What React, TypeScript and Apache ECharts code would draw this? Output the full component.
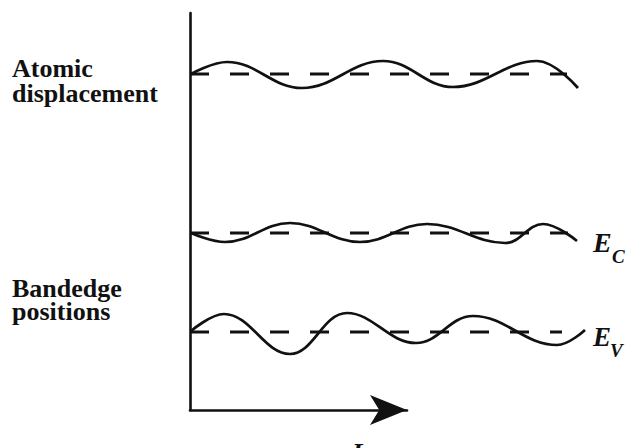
import React, { useEffect, useRef } from "react";
import * as echarts from "echarts";

// Reference levels (vertical units of the plot) for the three traces
const atomicLevel = 336;
const conductionLevel = 177;
const valenceLevel = 78;

// Positions along r of each trace's start, extrema and end, with the
// local deviation from its level at those positions
const atomicX = [1, 37, 112, 193, 263, 347, 388];
const atomicY = [0, 12, -14, 13, -13, 13, -14];

const conductionX = [1, 35, 100, 170, 237, 315, 353, 387];
const conductionY = [0, -9, 10, -9, 9, -10, 9, -8];

const valenceX = [1, 34, 100, 157, 226, 283, 367, 395];
const valenceY = [1, 18, -22, 19, -11, 16, -13, 2];

// Extent of each dashed reference line along r
const atomicDashEnd = 377;
const conductionDashEnd = 378;
const valenceDashEnd = 372;

const INK = "#111";
const SERIF = '"Liberation Serif", "Times New Roman", serif';

const wave = (xs: number[], ys: number[], level: number) =>
  xs.map((x, i) => [x, level + ys[i]]);

const dashLine = (end: number, level: number) => [
  [0, level],
  [end, level],
];

export default function App() {
  const ref = useRef<HTMLDivElement>(null);

  useEffect(() => {
    if (!ref.current) return;
    const chart = echarts.init(ref.current, undefined, { renderer: "svg" });

    const curve = (name: string, data: number[][]) => ({
      name,
      type: "line",
      xAxisIndex: 1,
      yAxisIndex: 1,
      data,
      smooth: 0.4,
      symbol: "none",
      lineStyle: { color: INK, width: 2.7 },
      silent: true,
    });
    const dashed = (name: string, data: number[][]) => ({
      name,
      type: "line",
      xAxisIndex: 1,
      yAxisIndex: 1,
      data,
      symbol: "none",
      lineStyle: { color: INK, width: 2.8, type: [19, 21], cap: "butt" },
      silent: true,
    });

    const label = (
      text: string,
      x: number,
      y: number,
      font: string,
      lineHeight: number,
      verticalAlign = "middle"
    ) => ({
      type: "text",
      x,
      y,
      silent: true,
      style: {
        text,
        fill: INK,
        font,
        lineHeight,
        align: "left",
        verticalAlign,
      },
    });

    chart.setOption({
      animation: false,
      backgroundColor: "#fff",
      grid: [
        // axes frame with the r arrow
        { left: 190, top: 13, width: 217, bottom: 38 },
        // traces
        { left: 190, top: 13, width: 430, bottom: 38 },
      ],
      xAxis: [
        {
          type: "value",
          gridIndex: 0,
          min: 0,
          max: 1,
          axisLine: {
            show: true,
            onZero: false,
            symbol: ["none", "arrow"],
            symbolSize: [22.5, 37],
            lineStyle: { color: INK, width: 2.6 },
          },
          axisTick: { show: false },
          axisLabel: { show: false },
          splitLine: { show: false },
        },
        {
          type: "value",
          gridIndex: 1,
          min: 0,
          max: 430,
          show: false,
        },
      ],
      yAxis: [
        {
          type: "value",
          gridIndex: 0,
          min: 0,
          max: 1,
          axisLine: {
            show: true,
            onZero: false,
            lineStyle: { color: INK, width: 2.6 },
          },
          axisTick: { show: false },
          axisLabel: { show: false },
          splitLine: { show: false },
        },
        {
          type: "value",
          gridIndex: 1,
          min: 0,
          max: 397,
          show: false,
        },
      ],
      series: [
        dashed("atomic-ref", dashLine(atomicDashEnd, atomicLevel)),
        dashed("ec-ref", dashLine(conductionDashEnd, conductionLevel)),
        dashed("ev-ref", dashLine(valenceDashEnd, valenceLevel)),
        curve("atomic", wave(atomicX, atomicY, atomicLevel)),
        curve("ec", wave(conductionX, conductionY, conductionLevel)),
        curve("ev", wave(valenceX, valenceY, valenceLevel)),
      ],
      graphic: [
        label("Atomic\ndisplacement", 12, 56, `bold 26px ${SERIF}`, 25, "top"),
        label("Bandedge\npositions", 12, 277, `bold 26px ${SERIF}`, 23, "top"),
        label("E", 593, 242, `italic bold 28px ${SERIF}`, 22),
        label("C", 612, 256, `italic bold 19px ${SERIF}`, 16),
        label("E", 593, 337, `italic bold 27px ${SERIF}`, 22),
        label("V", 610, 350, `italic bold 19px ${SERIF}`, 16),
        label("L", 352, 452, `italic bold 26px ${SERIF}`, 22),
      ],
    });

    return () => chart.dispose();
  }, []);

  return (
    <div
      ref={ref}
      style={{ position: "fixed", left: 0, top: 0, width: 627, height: 448 }}
    />
  );
}
